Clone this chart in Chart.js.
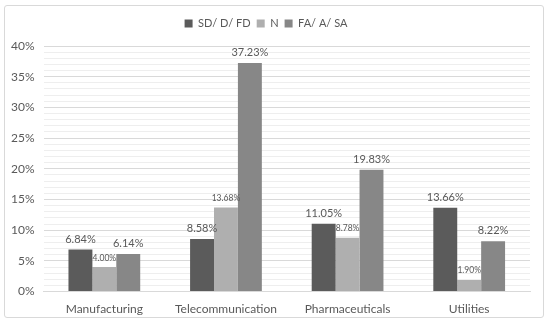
<!DOCTYPE html>
<html>
<head>
<meta charset="utf-8">
<script src="https://cdn.jsdelivr.net/npm/chart.js@4"></script>
<style>
  body { margin: 0; background: #fff; }
  #wrap { position: relative; width: 550px; height: 326px; }
  #frame { position: absolute; left: 4px; top: 5px; width: 540px; height: 313px;
           border: 1px solid #d9d9d9; border-radius: 3px; box-sizing: border-box; }
  canvas { position: absolute; left: 0; top: 0; }
</style>
</head>
<body>
<div id="wrap">
  <div id="frame"></div>
  <canvas id="chart" width="550" height="326"></canvas>
</div>
<script>
// ----------------------
//  DATA
// ----------------------
const categories = ['Manufacturing', 'Telecommunication', 'Pharmaceuticals', 'Utilities'];
const seriesNames = ['SD/ D/ FD', 'N', 'FA/ A/ SA'];
const sdValues = [6.84, 8.58, 11.05, 13.66];
const nValues = [4.00, 13.68, 8.78, 1.90];
const faValues = [6.14, 37.23, 19.83, 8.22];
const seriesColors = ['#5b5b5b', '#afafaf', '#878787'];
const labelSizes = [11, 8.5, 11];

const textColor = '#595959';
const fontFamily = 'Lato, "Open Sans", sans-serif';

//  DATA LABELS ABOVE BARS
const barLabels = {
    id: 'barLabels',
    afterDatasetsDraw(chart) {
        const ctx = chart.ctx;
        ctx.save();
        ctx.fillStyle = textColor;
        ctx.textAlign = 'center';
        ctx.textBaseline = 'bottom';
        chart.data.datasets.forEach((ds, i) => {
            ctx.font = labelSizes[i] + 'px ' + fontFamily;
            chart.getDatasetMeta(i).data.forEach((bar, j) => {
                ctx.fillText(ds.data[j].toFixed(2) + '%', bar.x, bar.y - 5);
            });
        });
        ctx.restore();
    }
};

//  EXTRA SPACE UNDER LEGEND
const legendGap = {
    id: 'legendGap',
    beforeInit(chart) {
        const fit = chart.legend.fit;
        chart.legend.fit = function () {
            fit.bind(chart.legend)();
            this.height += 7;
        };
    }
};

const ctx = document.getElementById('chart').getContext('2d');
new Chart(ctx, {
    type: 'bar',
    data: {
        labels: categories,
        datasets: [sdValues, nValues, faValues].map((values, i) => ({
            label: seriesNames[i],
            data: values,
            backgroundColor: seriesColors[i],
            barPercentage: 1,
            categoryPercentage: 0.59,
        })),
    },
    plugins: [barLabels, legendGap],
    options: {
        responsive: false,
        animation: false,
        layout: { padding: { left: 2, right: 20, top: 12, bottom: 8 } },
        plugins: {
            legend: {
                position: 'top',
                labels: {
                    boxWidth: 8,
                    boxHeight: 8,
                    padding: 6,
                    color: textColor,
                    font: { family: fontFamily, size: 11 },
                },
            },
            tooltip: { enabled: false },
        },
        scales: {
            x: {
                grid: { display: false },
                border: { color: '#d9d9d9' },
                ticks: { color: textColor, font: { family: fontFamily, size: 12 }, padding: 2 },
            },
            y: {
                min: 0,
                max: 40,
                border: { display: false },
                grid: {
                    color: (c) => (c.tick.value % 5 === 0 ? '#d9d9d9' : '#eeeeee'),
                    drawTicks: false,
                },
                ticks: {
                    stepSize: 1,
                    autoSkip: false,
                    padding: 9,
                    color: textColor,
                    font: { family: fontFamily, size: 12 },
                    callback: (v) => (v % 5 === 0 ? v + '%' : ''),
                },
            },
        },
    },
});
</script>
</body>
</html>
